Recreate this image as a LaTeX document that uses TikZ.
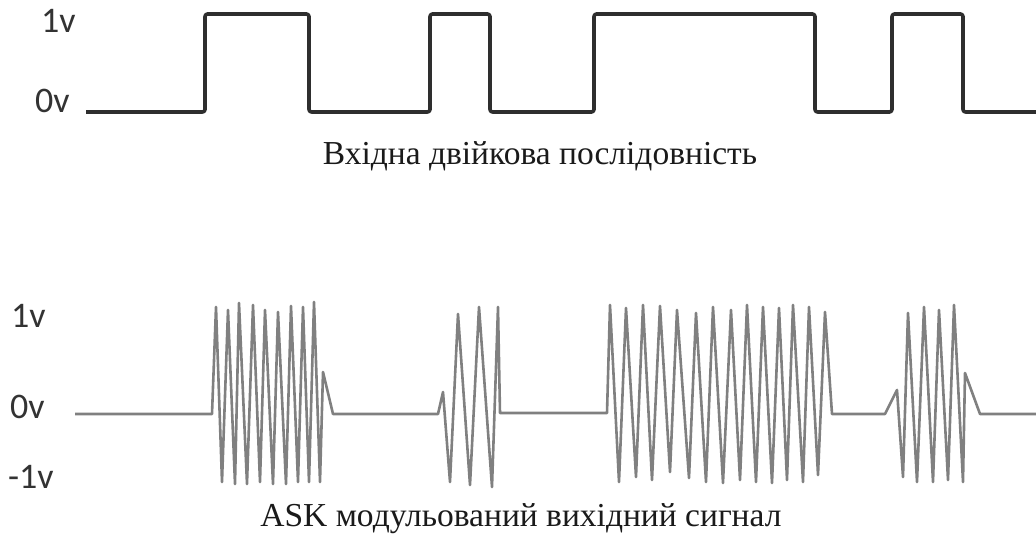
\documentclass[tikz,border=0pt]{standalone}
\usepackage{fontspec}
\setmainfont{Liberation Serif}
\newfontfamily\lblfont{Carlito}
\definecolor{sqcol}{HTML}{2E2E2E}
\definecolor{askcol}{HTML}{808080}
\definecolor{labcol}{HTML}{333333}
\definecolor{capcol}{HTML}{1A1A1A}
\begin{document}
\begin{tikzpicture}[x=1pt,y=-1pt,
  sqwave/.style={line width=3.6pt, draw=sqcol, rounded corners=2.5pt, line join=round},
  askwave/.style={line width=2.6pt, draw=askcol, line join=round},
  vlab/.style={font=\lblfont\fontsize{36}{38}\selectfont, text=labcol, inner sep=0pt, anchor=base west},
  capt/.style={font=\fontsize{33.5}{38}\selectfont, text=capcol, inner sep=0pt, anchor=base}]
\fill[white] (0,0) rectangle (1036,540);
\useasboundingbox (0,0) rectangle (1036,540);
% top labels
\node[vlab] (t1) at (41,33) {1v};
\node[vlab] (t0) at (35,113) {0v};
% square wave
\draw[sqwave] (86,112) -- (205,112) -- (205,14) -- (309,14) -- (309,112) -- (430,112) -- (430,14) -- (490,14) -- (490,112) -- (594,112) -- (594,14) -- (815,14) -- (815,112) -- (892,112) -- (892,14) -- (963,14) -- (963,112) -- (1040,112);
\node[capt] (c1) at (540,165) {Вхідна двійкова послідовність};
% bottom labels
\node[vlab] (b1) at (11,327) {1v};
\node[vlab] (b0) at (10,418) {0v};
\node[vlab] (bm) at (8,488) {-1v};
% ASK wave
\draw[askwave] (75,414) -- (212,414) -- (216,307) -- (222,482) -- (228,310) -- (235,484) -- (239,303) -- (247,484) -- (253,305) -- (260,482) -- (265,310) -- (273,484) -- (278,312) -- (286,484) -- (291,306) -- (298,482) -- (303,307) -- (309,482) -- (314,302) -- (320,482) -- (323,372) -- (333,414) -- (438,414) -- (443,392) -- (450,482) -- (458,314) -- (470,485) -- (479,307) -- (492,487) -- (498,307) -- (500,413) -- (607,413) -- (610,305) -- (619,482) -- (626,308) -- (636,477) -- (643,305) -- (652,480) -- (660,306) -- (670,472) -- (677,310) -- (689,478) -- (696,313) -- (706,482) -- (713,307) -- (723,483) -- (731,310) -- (740,480) -- (747,305) -- (756,482) -- (763,307) -- (772,483) -- (779,308) -- (787,480) -- (793,305) -- (803,482) -- (809,307) -- (818,475) -- (825,312) -- (832,414) -- (885,414) -- (897,390) -- (903,477) -- (908,313) -- (917,482) -- (924,307) -- (933,482) -- (939,310) -- (948,480) -- (954,305) -- (963,482) -- (965,373) -- (980,414) -- (1040,414);
\node[capt] (c2) at (521,526) {ASK модульований вихідний сигнал};
\end{tikzpicture}
\end{document}
